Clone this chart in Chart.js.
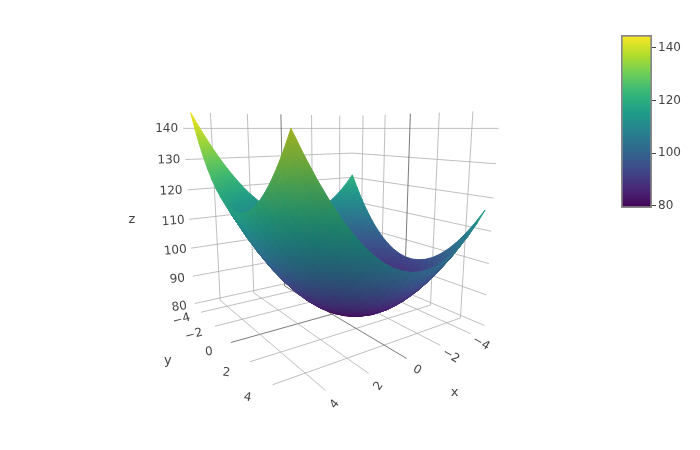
<!DOCTYPE html>
<html>
<head>
<meta charset="utf-8">
<script src="https://cdn.jsdelivr.net/npm/chart.js@4/dist/chart.umd.js"></script>
<style>
  html, body { margin: 0; background: #fff; }
  #main { position: absolute; left: 0; top: 0; }
  #bar { position: absolute; left: 600px; top: 20px; }
</style>
</head>
<body>
<canvas id="main" width="700" height="450"></canvas>
<canvas id="bar" width="90" height="200"></canvas>
<script>
const xValues = [-5,-4.5,-4,-3.5,-3,-2.5,-2,-1.5,-1,-0.5,0,0.5,1,1.5,2,2.5,3,3.5,4,4.5,5];
const yValues = [-5,-4.5,-4,-3.5,-3,-2.5,-2,-1.5,-1,-0.5,0,0.5,1,1.5,2,2.5,3,3.5,4,4.5,5];
// one row per x value, one column per y value
const zRows = [
  [121,116,111.5,107.5,104,101,98.5,96.5,95,94,93.5,93.5,94,95,96.5,98.5,101,104,107.5,111.5,116],
  [117.45,112.45,107.95,103.95,100.45,97.45,94.95,92.95,91.45,90.45,89.95,89.95,90.45,91.45,92.95,94.95,97.45,100.45,103.95,107.95,112.45],
  [114.4,109.4,104.9,100.9,97.4,94.4,91.9,89.9,88.4,87.4,86.9,86.9,87.4,88.4,89.9,91.9,94.4,97.4,100.9,104.9,109.4],
  [111.85,106.85,102.35,98.35,94.85,91.85,89.35,87.35,85.85,84.85,84.35,84.35,84.85,85.85,87.35,89.35,91.85,94.85,98.35,102.35,106.85],
  [109.8,104.8,100.3,96.3,92.8,89.8,87.3,85.3,83.8,82.8,82.3,82.3,82.8,83.8,85.3,87.3,89.8,92.8,96.3,100.3,104.8],
  [108.25,103.25,98.75,94.75,91.25,88.25,85.75,83.75,82.25,81.25,80.75,80.75,81.25,82.25,83.75,85.75,88.25,91.25,94.75,98.75,103.25],
  [107.2,102.2,97.7,93.7,90.2,87.2,84.7,82.7,81.2,80.2,79.7,79.7,80.2,81.2,82.7,84.7,87.2,90.2,93.7,97.7,102.2],
  [106.65,101.65,97.15,93.15,89.65,86.65,84.15,82.15,80.65,79.65,79.15,79.15,79.65,80.65,82.15,84.15,86.65,89.65,93.15,97.15,101.65],
  [106.6,101.6,97.1,93.1,89.6,86.6,84.1,82.1,80.6,79.6,79.1,79.1,79.6,80.6,82.1,84.1,86.6,89.6,93.1,97.1,101.6],
  [107.05,102.05,97.55,93.55,90.05,87.05,84.55,82.55,81.05,80.05,79.55,79.55,80.05,81.05,82.55,84.55,87.05,90.05,93.55,97.55,102.05],
  [108,103,98.5,94.5,91,88,85.5,83.5,82,81,80.5,80.5,81,82,83.5,85.5,88,91,94.5,98.5,103],
  [109.45,104.45,99.95,95.95,92.45,89.45,86.95,84.95,83.45,82.45,81.95,81.95,82.45,83.45,84.95,86.95,89.45,92.45,95.95,99.95,104.45],
  [111.4,106.4,101.9,97.9,94.4,91.4,88.9,86.9,85.4,84.4,83.9,83.9,84.4,85.4,86.9,88.9,91.4,94.4,97.9,101.9,106.4],
  [113.85,108.85,104.35,100.35,96.85,93.85,91.35,89.35,87.85,86.85,86.35,86.35,86.85,87.85,89.35,91.35,93.85,96.85,100.35,104.35,108.85],
  [116.8,111.8,107.3,103.3,99.8,96.8,94.3,92.3,90.8,89.8,89.3,89.3,89.8,90.8,92.3,94.3,96.8,99.8,103.3,107.3,111.8],
  [120.25,115.25,110.75,106.75,103.25,100.25,97.75,95.75,94.25,93.25,92.75,92.75,93.25,94.25,95.75,97.75,100.25,103.25,106.75,110.75,115.25],
  [124.2,119.2,114.7,110.7,107.2,104.2,101.7,99.7,98.2,97.2,96.7,96.7,97.2,98.2,99.7,101.7,104.2,107.2,110.7,114.7,119.2],
  [128.65,123.65,119.15,115.15,111.65,108.65,106.15,104.15,102.65,101.65,101.15,101.15,101.65,102.65,104.15,106.15,108.65,111.65,115.15,119.15,123.65],
  [133.6,128.6,124.1,120.1,116.6,113.6,111.1,109.1,107.6,106.6,106.1,106.1,106.6,107.6,109.1,111.1,113.6,116.6,120.1,124.1,128.6],
  [139.05,134.05,129.55,125.55,122.05,119.05,116.55,114.55,113.05,112.05,111.55,111.55,112.05,113.05,114.55,116.55,119.05,122.05,125.55,129.55,134.05],
  [145,140,135.5,131.5,128,125,122.5,120.5,119,118,117.5,117.5,118,119,120.5,122.5,125,128,131.5,135.5,140]
];
const xTicks = [-4,-2,0,2,4];
const yTicks = [-4,-2,0,2,4];
const zTicks = [80,90,100,110,120,130,140];
const barTicks = [80,100,120,140];
const barRange = [79.2,144.9];
const viridis = ['#440154','#482878','#3e4989','#31688e','#26828e','#1f9e89','#35b779','#6ece58','#b5de2b','#fde725'];
// text angles of the tick labels, degrees
const xTickAngles = [30,30,28,-55,-50];
const yTickAngles = [-15,-15,-6,6,10];

const zMin = 79.1, zMax = 145;
const zMid = (zMin + zMax) / 2, zHalf = (zMax - zMin) / 2;

const cam = { cx: 332, cy: 217.5, f: 446, dist: 4.33, yaw: 55.5, pitch: 11.3, zBox: 1 };
const yawR = cam.yaw * Math.PI / 180, pitchR = cam.pitch * Math.PI / 180;
const dx = -Math.cos(yawR), dy = -Math.sin(yawR);
const fwd = [dx * Math.cos(pitchR), dy * Math.cos(pitchR), -Math.sin(pitchR)];
const up = [dx * Math.sin(pitchR), dy * Math.sin(pitchR), Math.cos(pitchR)];
const right = [dy, -dx, 0];

function cube(x, y, z) {
  return [x / 5, y / 5, (z - zMid) / zHalf * cam.zBox];
}
function dot(a, b) { return a[0] * b[0] + a[1] * b[1] + a[2] * b[2]; }
function project(x, y, z) {
  const p = cube(x, y, z);
  const depth = cam.dist + dot(p, fwd);
  return {
    x: cam.cx + cam.f * dot(p, right) / depth,
    y: cam.cy - cam.f * dot(p, up) / depth,
    depth
  };
}

function hexRgb(h) {
  return [parseInt(h.slice(1, 3), 16), parseInt(h.slice(3, 5), 16), parseInt(h.slice(5, 7), 16)];
}
function colorAt(z, shade) {
  const t = Math.min(1, Math.max(0, (z - zMin) / (zMax - zMin))) * (viridis.length - 1);
  const i = Math.min(viridis.length - 2, Math.floor(t));
  const a = hexRgb(viridis[i]), b = hexRgb(viridis[i + 1]);
  const c = a.map((v, k) => Math.round((v + (b[k] - v) * (t - i)) * shade));
  return 'rgb(' + c.join(',') + ')';
}

const ctx = document.getElementById('main').getContext('2d');

// rough match of plotly's lighting, one shade per grid cell
function cellShade(a, b, c, d) {
  const p = cube(...a), q = cube(...b), r = cube(...c), s = cube(...d);
  const u = [r[0] - p[0], r[1] - p[1], r[2] - p[2]], w = [s[0] - q[0], s[1] - q[1], s[2] - q[2]];
  let n = [u[1] * w[2] - u[2] * w[1], u[2] * w[0] - u[0] * w[2], u[0] * w[1] - u[1] * w[0]];
  const len = Math.hypot(n[0], n[1], n[2]) || 1;
  n = n.map(v => v / len);
  if (n[2] < 0) n = n.map(v => -v);
  const nx = Math.max(0, -n[0]), ny = Math.max(0, -n[1]);
  return 1 - 0.4 * nx * ny - 0.04 * nx - 0.04 * ny;
}

// fill one triangle with a gradient that follows z across it on screen
function triangle(v, shade) {
  const pts = v.map(q => project(q[0], q[1], q[2]));
  const x1 = pts[1].x - pts[0].x, y1 = pts[1].y - pts[0].y, d1 = v[1][2] - v[0][2];
  const x2 = pts[2].x - pts[0].x, y2 = pts[2].y - pts[0].y, d2 = v[2][2] - v[0][2];
  const det = x1 * y2 - x2 * y1;
  const lo = Math.min(v[0][2], v[1][2], v[2][2]), hi = Math.max(v[0][2], v[1][2], v[2][2]);
  let fill = colorAt((lo + hi) / 2, shade);
  if (Math.abs(det) > 1e-6 && hi - lo > 1e-6) {
    const gx = (d1 * y2 - d2 * y1) / det, gy = (x1 * d2 - x2 * d1) / det;
    const g2 = gx * gx + gy * gy;
    const s = (lo - v[0][2]) / g2, e = (hi - v[0][2]) / g2;
    const grad = ctx.createLinearGradient(pts[0].x + gx * s, pts[0].y + gy * s, pts[0].x + gx * e, pts[0].y + gy * e);
    grad.addColorStop(0, colorAt(lo, shade));
    grad.addColorStop(1, colorAt(hi, shade));
    fill = grad;
  }
  return {
    depth: (pts[0].depth + pts[1].depth + pts[2].depth) / 3,
    dataset: {
      data: [pts[0], pts[1], pts[2], pts[0]].map(p => ({ x: p.x, y: p.y })),
      showLine: true, fill: 'shape', tension: 0, pointRadius: 0,
      backgroundColor: fill, borderColor: fill, borderWidth: 1
    }
  };
}

const tris = [];
for (let i = 0; i < xValues.length - 1; i++) {
  for (let j = 0; j < yValues.length - 1; j++) {
    const p00 = [xValues[i], yValues[j], zRows[i][j]];
    const p10 = [xValues[i + 1], yValues[j], zRows[i + 1][j]];
    const p01 = [xValues[i], yValues[j + 1], zRows[i][j + 1]];
    const p11 = [xValues[i + 1], yValues[j + 1], zRows[i + 1][j + 1]];
    const shade = cellShade(p00, p10, p11, p01);
    tris.push(triangle([p00, p10, p11], shade), triangle([p00, p11, p01], shade));
  }
}
// nearest first: Chart.js paints the first dataset last
tris.sort((a, b) => a.depth - b.depth);
const surface = tris.map(t => t.dataset);

function gridLine(a, b, strong) {
  const p = project(...a), q = project(...b);
  return {
    data: [{ x: p.x, y: p.y }, { x: q.x, y: q.y }],
    showLine: true, fill: false, tension: 0, pointRadius: 0,
    borderColor: strong ? 'rgba(90,90,90,0.8)' : 'rgba(170,170,170,0.75)',
    borderWidth: 1
  };
}
const tick = 0.4;
const grid = [];
xTicks.forEach(x => {
  grid.push(gridLine([x, -5, zMin], [x, 5 + tick, zMin], x === 0));
  grid.push(gridLine([x, -5, zMin], [x, -5, zMax], x === 0));
});
yTicks.forEach(y => {
  grid.push(gridLine([-5, y, zMin], [5 + tick, y, zMin], y === 0));
  grid.push(gridLine([-5, y, zMin], [-5, y, zMax], y === 0));
});
zTicks.forEach(z => {
  grid.push(gridLine([-5, -5, z], [5 + tick, -5, z], false));
  grid.push(gridLine([-5, -5, z], [-5, 5 + tick, z], false));
});

const axisText = {
  id: 'axisText',
  afterDraw(chart) {
    const c = chart.ctx, sx = chart.scales.x, sy = chart.scales.y;
    const put = (label, pos, angle, size) => {
      const p = project(...pos);
      c.save();
      c.translate(sx.getPixelForValue(p.x), sy.getPixelForValue(p.y));
      c.rotate(angle * Math.PI / 180);
      c.font = size + 'px "DejaVu Sans"';
      c.fillStyle = '#444';
      c.textAlign = 'center';
      c.textBaseline = 'middle';
      c.fillText(label, 0, 0);
      c.restore();
    };
    xTicks.forEach((x, i) => put(String(x).replace('-', '\u2212'), [x, 6, zMin - 1.5], xTickAngles[i], 12));
    yTicks.forEach((y, i) => put(String(y).replace('-', '\u2212'), [6.4, y, zMin - 1], yTickAngles[i], 12));
    zTicks.forEach(z => put(String(z), [6.2, -5, z], (z - 140) / 60 * 8, 12));
    put('x', [0, 7.9, zMin - 1.5], 0, 13);
    put('y', [8.1, 0, zMin - 0.2], 0, 13);
    put('z', [8.1, -5, 112], 0, 13);
  }
};

new Chart(ctx, {
  type: 'scatter',
  data: { datasets: surface.concat(grid) },
  options: {
    responsive: false,
    animation: false,
    events: [],
    layout: { padding: 0 },
    scales: {
      x: { type: 'linear', min: 0, max: 700, display: false },
      y: { type: 'linear', min: 0, max: 450, reverse: true, display: false }
    },
    plugins: { legend: { display: false }, tooltip: { enabled: false } }
  },
  plugins: [axisText]
});

// colour bar
new Chart(document.getElementById('bar'), {
  type: 'bar',
  data: {
    labels: ['z'],
    datasets: [{
      data: [barRange],
      barPercentage: 1,
      categoryPercentage: 1,
      borderSkipped: false,
      borderWidth: 2,
      borderColor: '#888',
      backgroundColor(c) {
        const area = c.chart.chartArea;
        if (!area) return viridis[0];
        const g = c.chart.ctx.createLinearGradient(0, area.bottom, 0, area.top);
        viridis.forEach((col, i) => g.addColorStop(i / (viridis.length - 1), col));
        return g;
      }
    }]
  },
  options: {
    responsive: false,
    animation: false,
    events: [],
    layout: { padding: { left: 21, top: 15, bottom: 12, right: 0 } },
    scales: {
      x: { display: false },
      y: {
        position: 'right',
        min: barRange[0],
        max: barRange[1],
        afterBuildTicks(s) { s.ticks = barTicks.map(v => ({ value: v })); },
        afterFit(s) { s.width = 38; },
        border: { display: false },
        grid: { drawOnChartArea: false, tickLength: 4, color: '#444' },
        ticks: { color: '#444', padding: 2, font: { family: 'DejaVu Sans', size: 12 } }
      }
    },
    plugins: { legend: { display: false }, tooltip: { enabled: false } }
  }
});
</script>
</body>
</html>
